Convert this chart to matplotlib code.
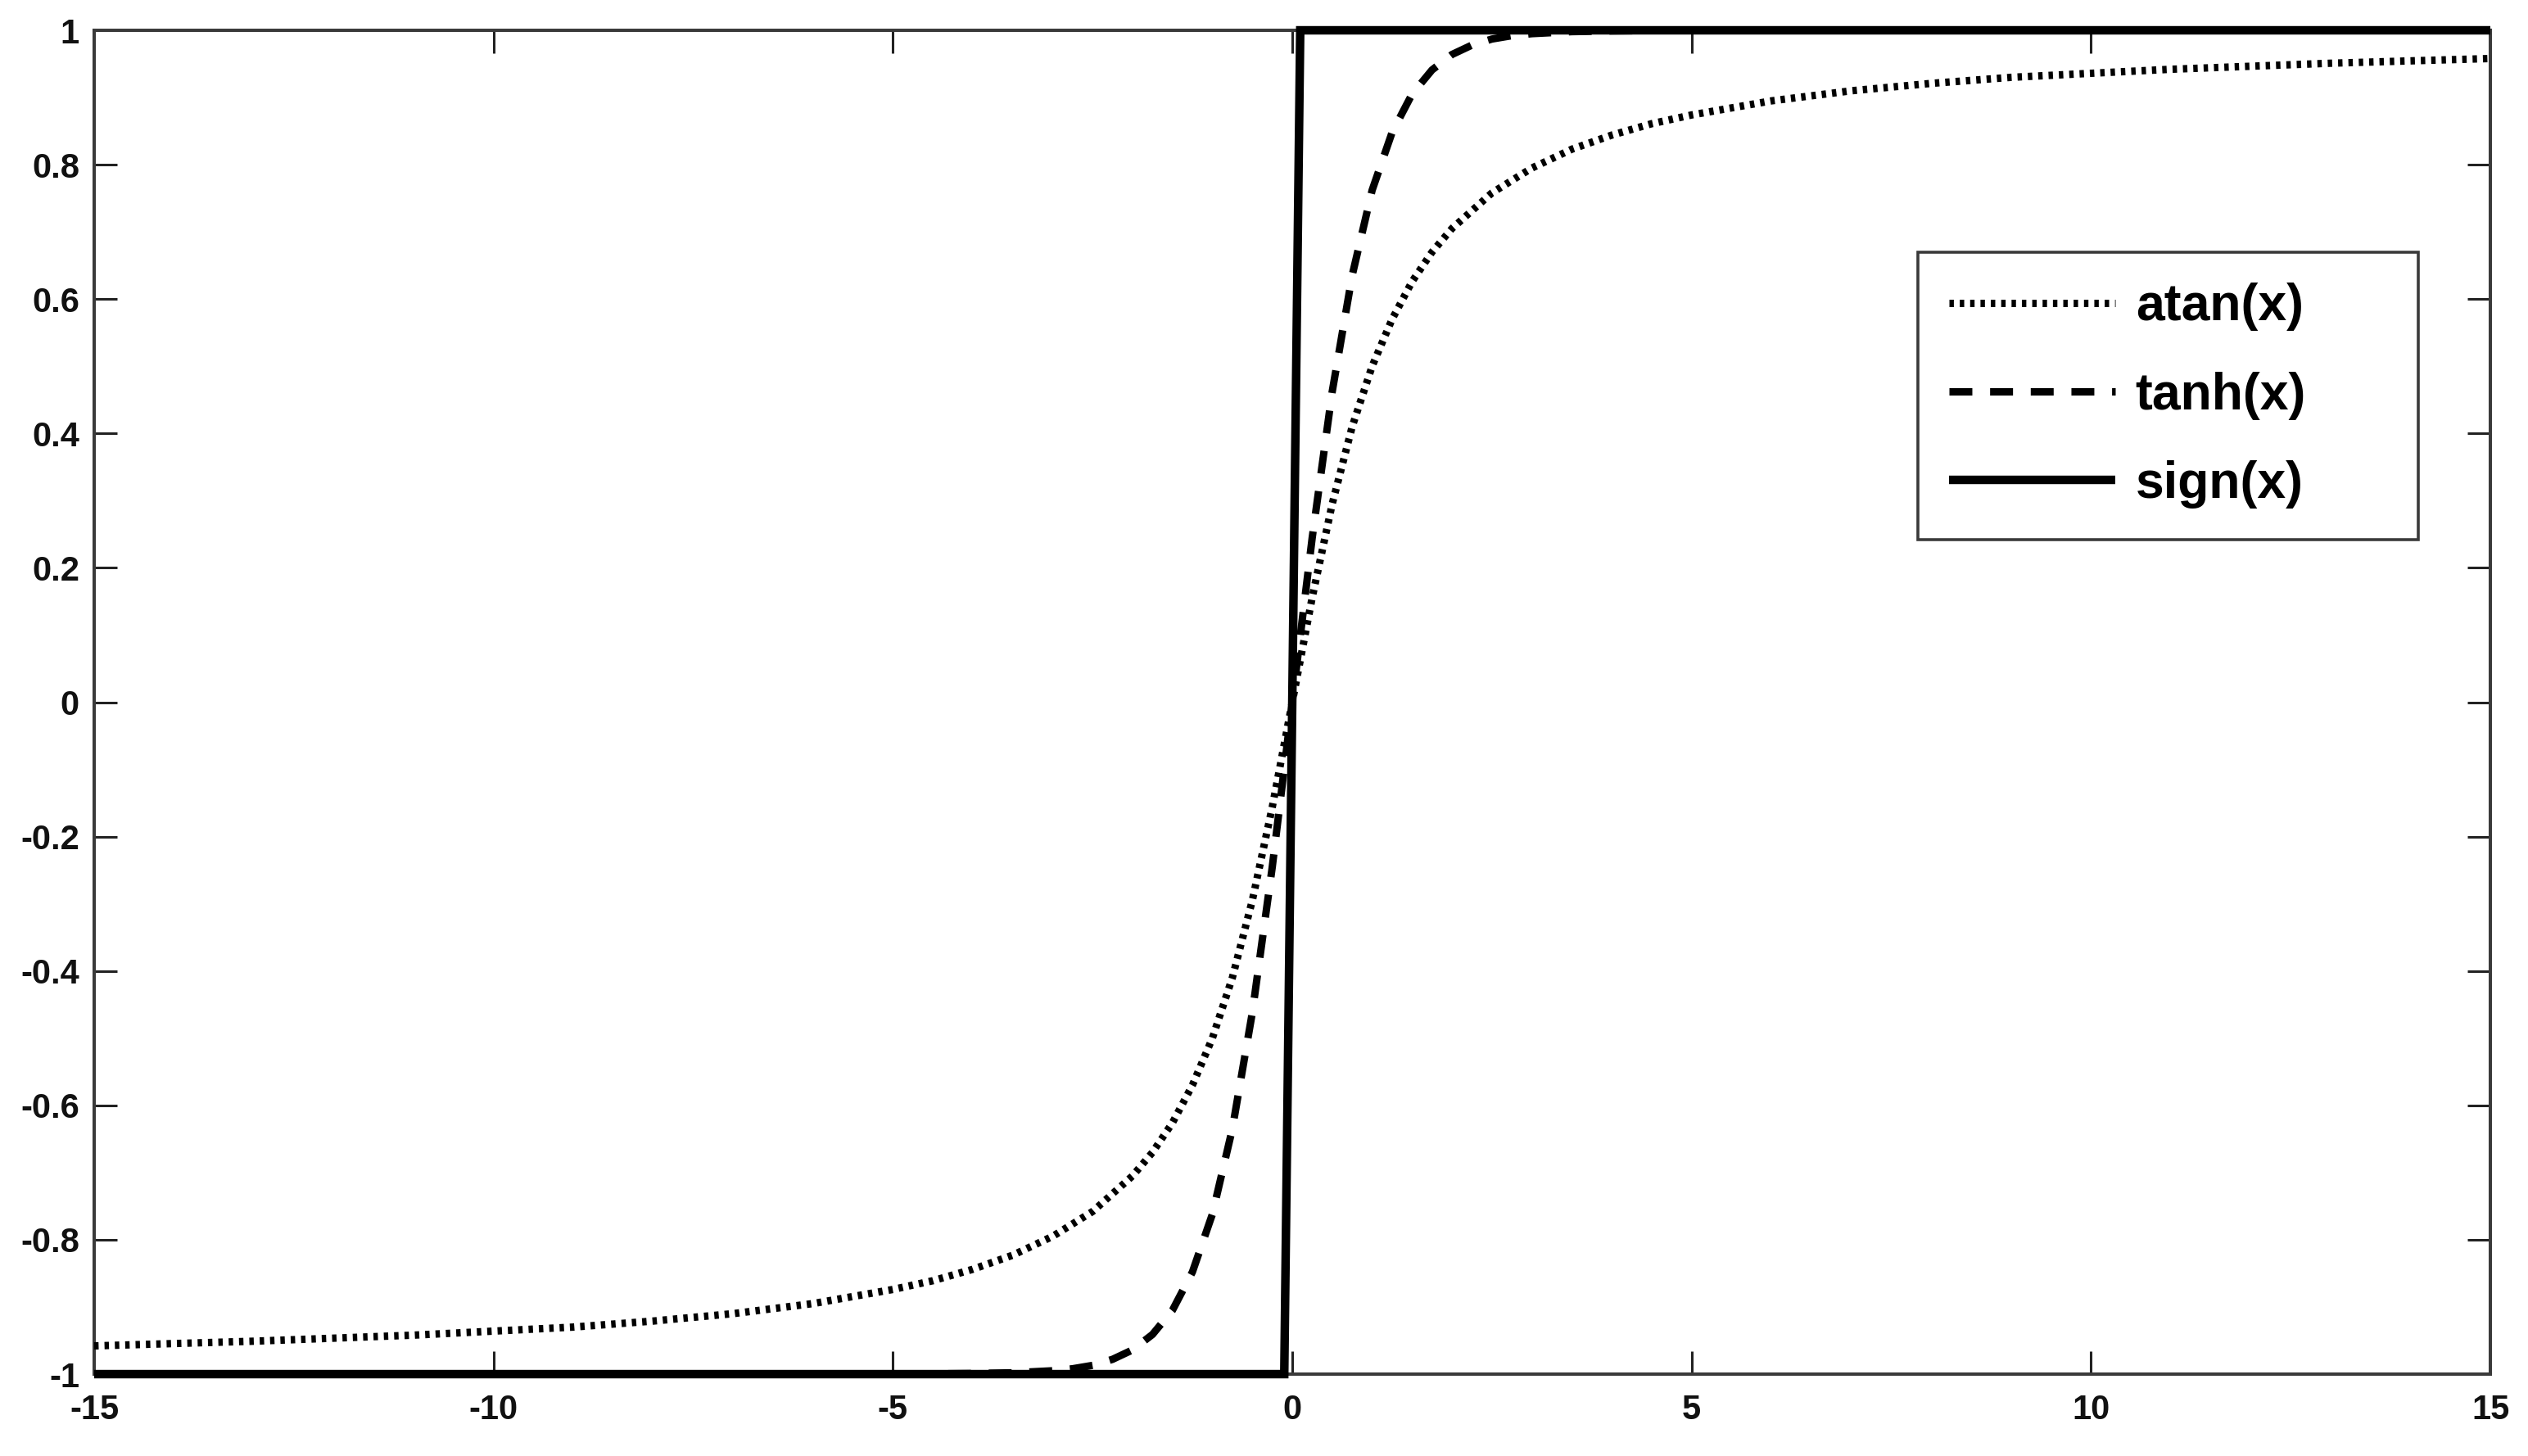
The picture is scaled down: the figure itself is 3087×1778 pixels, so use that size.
import matplotlib
matplotlib.use("Agg")
import matplotlib.pyplot as plt

plt.rcParams['font.family'] = ['Liberation Sans', 'DejaVu Sans']
plt.rcParams['axes.unicode_minus'] = False

# ---- data ----
atan_x = [-15, -13, -11, -9, -8, -7, -6, -5, -4.5, -4, -3.5, -3, -2.5, -2, -1.75,
          -1.5, -1.25, -1, -0.75, -0.5, -0.25, 0,
          0.25, 0.5, 0.75, 1, 1.25, 1.5, 1.75, 2, 2.5, 3, 3.5, 4, 4.5, 5, 6, 7,
          8, 9, 11, 13, 15]
atan_y = [-0.958, -0.951, -0.942, -0.930, -0.921, -0.910, -0.895, -0.874, -0.861,
          -0.844, -0.823, -0.795, -0.758, -0.705, -0.670, -0.626, -0.570, -0.500,
          -0.410, -0.295, -0.156, 0.000,
          0.156, 0.295, 0.410, 0.500, 0.570, 0.626, 0.670, 0.705, 0.758, 0.795,
          0.823, 0.844, 0.861, 0.874, 0.895, 0.910, 0.921, 0.930, 0.942, 0.951,
          0.958]

tanh_x = [-15, -5, -4, -3.5, -3, -2.75, -2.5, -2.25, -2, -1.75, -1.5, -1.25, -1,
          -0.75, -0.5, -0.25, 0,
          0.25, 0.5, 0.75, 1, 1.25, 1.5, 1.75, 2, 2.25, 2.5, 2.75, 3, 3.5, 4, 5, 15]
tanh_y = [-1.000, -1.000, -0.999, -0.998, -0.995, -0.992, -0.987, -0.978, -0.964,
          -0.941, -0.905, -0.848, -0.762, -0.635, -0.462, -0.245, 0.000,
          0.245, 0.462, 0.635, 0.762, 0.848, 0.905, 0.941, 0.964, 0.978, 0.987,
          0.992, 0.995, 0.998, 0.999, 1.000, 1.000]

sign_x = [-15, -0.1, 0.1, 15]
sign_y = [-1, -1, 1, 1]

labels = ["atan(x)", "tanh(x)", "sign(x)"]
x_ticks = [-15, -10, -5, 0, 5, 10, 15]
x_tick_labels = ["-15", "-10", "-5", "0", "5", "10", "15"]
y_ticks = [-1, -0.8, -0.6, -0.4, -0.2, 0, 0.2, 0.4, 0.6, 0.8, 1]
y_tick_labels = ["-1", "-0.8", "-0.6", "-0.4", "-0.2", "0", "0.2", "0.4", "0.6", "0.8", "1"]

# ---- figure ----
fig = plt.figure(figsize=(30.87, 17.78), dpi=100)
ax = fig.add_axes([0.03725, 0.05624, 0.98510 - 0.03725, 0.97919 - 0.05624])

l1, = ax.plot(atan_x, atan_y, color='black', lw=6.5, linestyle=(0, (0.6, 0.8)),
              dash_capstyle='butt', clip_on=False, zorder=3)
l2, = ax.plot(tanh_x, tanh_y, color='black', lw=6.5, linestyle=(0, (3.1, 2.4)),
              dash_capstyle='butt', clip_on=False, zorder=3)
l3, = ax.plot(sign_x, sign_y, color='black', lw=7.5, solid_capstyle='butt',
              solid_joinstyle='miter', clip_on=False, zorder=4)

ax.set_xlim(-15, 15)
ax.set_ylim(-1, 1)
ax.set_xticks(x_ticks)
ax.set_xticklabels(x_tick_labels, fontweight='bold')
ax.set_yticks(y_ticks)
ax.set_yticklabels(y_tick_labels, fontweight='bold')

spine_color = '#3a3a3a'
for s in ax.spines.values():
    s.set_linewidth(2.9)
    s.set_color(spine_color)
    s.set_zorder(2.5)

ax.tick_params(axis='both', which='both', direction='in', length=20, width=2.2,
               color='#222222', top=True, right=True, labelsize=30,
               labelcolor='#111111')
ax.tick_params(axis='y', pad=13)
ax.tick_params(axis='x', pad=17)

x0, x1 = 2342 / 3087, 2953 / 3087
y_top, y_bot = 1 - 308 / 1778, 1 - 656 / 1778
leg = fig.legend([l1, l2, l3], labels,
                 loc='upper left',
                 bbox_to_anchor=(x0, y_bot, x1 - x0, y_top - y_bot),
                 mode='expand', borderaxespad=0,
                 prop={'size': 45, 'weight': 'bold'},
                 handlelength=3.25, handletextpad=0.4,
                 labelspacing=0.79, borderpad=0.6, fancybox=False,
                 frameon=True, framealpha=1, edgecolor=spine_color)
leg.get_frame().set_linewidth(2.6)

fig.savefig("out.png", dpi=100, facecolor='white')
